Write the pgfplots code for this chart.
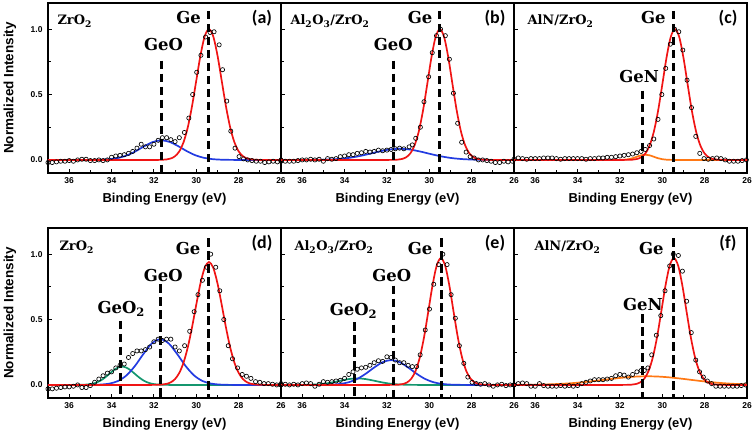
\documentclass[border=0pt]{standalone}
\usepackage{pgfplots}
\pgfplotsset{compat=1.18}
\usepackage{fontspec}
\setmainfont{Liberation Sans}
\newfontfamily\annfont{DejaVu Serif}
\newfontfamily\panfont{Carlito}
\definecolor{cred}{RGB}{240,20,20}
\definecolor{cblue}{RGB}{35,60,225}
\definecolor{cgreen}{RGB}{20,150,110}
\definecolor{corange}{RGB}{255,120,20}
\pgfplotsset{
 panel/.style={scale only axis, width=233bp, height=170bp, anchor=south west,
   xmin=26, xmax=37, x dir=reverse, ymin=-0.1, ymax=1.2,
   xtick={26,28,...,36}, minor xtick={27,29,...,35}, ytick={0,0.5,1}, minor ytick={0.25,0.75},
   tick align=inside, xtick pos=bottom, ytick pos=left,
   major tick length=4bp, minor tick length=3bp,
   tick style={black, line width=0.9bp}, axis line style={line width=1.3bp},
   /pgf/number format/assume math mode=true,
   ticklabel style={font=\bfseries\fontsize{8.5}{10}\selectfont},
   xticklabel style={yshift=-1.5bp},
   yticklabel style={xshift=-2bp, /pgf/number format/fixed, /pgf/number format/fixed zerofill, /pgf/number format/precision=1},
   xlabel={Binding Energy (eV)},
   xlabel style={font=\bfseries\fontsize{13}{15}\selectfont, at={(axis description cs:0.5,-0.155)}, anchor=center},
   ylabel style={font=\bfseries\fontsize{13.5}{15}\selectfont, at={(axis description cs:-0.163,0.5)}, anchor=center},
 },
 noylab/.style={yticklabels={}},
}
\tikzset{
 fitline/.style={line width=1.7bp, smooth},
 dline/.style={black, line width=3bp, line cap=butt, dash pattern=on 8.5bp off 4.5bp},
 datapts/.style={only marks, mark=o, mark size=2.1bp, mark options={black, line width=0.65bp, solid}},
 ann/.style={font=\annfont\bfseries\fontsize{16.5}{19}\selectfont},
 sam/.style={font=\annfont\bfseries\fontsize{13}{15}\selectfont, anchor=west},
 plab/.style={font=\panfont\bfseries\fontsize{18}{20}\selectfont},
}
\begin{document}
\begin{tikzpicture}
\useasboundingbox (0,0) rectangle (756bp,435bp);
% ---------------- (a)
\begin{axis}[panel, at={(48bp,262bp)}, ylabel={Normalized Intensity}]
\addplot[cblue, fitline, no marks] coordinates {(37,0)(35.25,0.0001)(34.85,0.0005)(34.45,0.002)(34.05,0.0062)(33.65,0.0164)(33.25,0.0363)(32.85,0.0675)(32.45,0.105)(32.05,0.137)(31.65,0.15)(31.25,0.137)(30.85,0.105)(30.45,0.0675)(30.05,0.0363)(29.65,0.0164)(29.25,0.0062)(28.85,0.002)(28.45,0.0005)(28.05,0.0001)(26,0)};
\addplot[cred, fitline, no marks] coordinates {(37,0)(33,0)(32.2,0)(31.8,0)(31.6,0.0012)(31.4,0.0039)(31.2,0.0111)(31.0,0.0286)(30.8,0.0657)(30.6,0.1353)(30.4,0.2494)(30.2,0.4111)(30.0,0.6065)(29.8,0.8007)(29.6,0.9460)(29.4,1.0)(29.2,0.9460)(29.0,0.8007)(28.8,0.6065)(28.6,0.4111)(28.4,0.2494)(28.2,0.1353)(28.0,0.0657)(27.8,0.0286)(27.6,0.0111)(27.4,0.0039)(27.2,0.0012)(27.0,0)(26.6,0)(26,0)};
\addplot[datapts] coordinates {(37.0,-0.02)(36.8,-0.02)(36.6,-0.015)(36.4,-0.01)(36.2,-0.01)(36.0,-0.005)(35.8,-0.01)(35.6,0.0)(35.4,0.005)(35.2,0.005)(35.0,-0.005)(34.8,-0.005)(34.6,0.0)(34.4,-0.005)(34.2,0.0)(34.0,0.02)(33.8,0.03)(33.6,0.035)(33.4,0.04)(33.2,0.05)(33.0,0.065)(32.8,0.09)(32.6,0.12)(32.4,0.10)(32.2,0.10)(32.0,0.12)(31.8,0.15)(31.6,0.17)(31.4,0.17)(31.2,0.155)(31.0,0.14)(30.8,0.17)(30.56,0.21)(30.35,0.32)(30.17,0.50)(29.98,0.67)(29.78,0.80)(29.56,0.94)(29.35,0.975)(29.16,0.98)(28.92,0.88)(28.76,0.69)(28.56,0.45)(28.37,0.22)(28.17,0.09)(27.98,0.025)(27.77,0.008)(27.57,0.0)(27.37,-0.005)(27.17,-0.01)(26.97,-0.01)(26.77,-0.02)(26.57,-0.015)(26.37,-0.01)(26.17,-0.015)(26.0,-0.01)};
\addplot[dline, no marks] coordinates {(29.4,1.14)(29.4,-0.1)};
\addplot[dline, no marks] coordinates {(31.65,0.76)(31.65,-0.1)};
\node[ann] at (axis cs:30.36,1.09) {Ge};
\node[ann] at (axis cs:31.55,0.88) {GeO};
\node[sam] at (rel axis cs:0,1) [xshift=6bp, yshift=-18bp] {ZrO\textsubscript{2}};
\node[plab] at (rel axis cs:1,1) [xshift=-19bp, yshift=-15bp] {(a)};
\end{axis}
% ---------------- (b)
\begin{axis}[panel, noylab, at={(281bp,262bp)}]
\addplot[cblue, fitline, no marks] coordinates {(37,0)(35.9,0.0002)(35.4,0.0007)(34.9,0.0023)(34.4,0.0059)(33.9,0.0133)(33.4,0.026)(32.9,0.0437)(32.4,0.0632)(31.9,0.079)(31.4,0.085)(30.9,0.079)(30.4,0.0632)(29.9,0.0437)(29.4,0.026)(28.9,0.0133)(28.4,0.0059)(27.9,0.0023)(27.4,0.0007)(26.9,0.0002)(26,0)};
\addplot[cred, fitline, no marks] coordinates {(37,0)(33,0)(32.3,0)(32,0)(31.7,0.0006)(31.5,0.0021)(31.3,0.0068)(31.1,0.0195)(30.9,0.049)(30.7,0.109)(30.5,0.2146)(30.3,0.3735)(30.1,0.5747)(29.9,0.7817)(29.7,0.9403)(29.5,1.0)(29.3,0.9403)(29.1,0.7817)(28.9,0.5747)(28.7,0.3735)(28.5,0.2146)(28.3,0.109)(28.1,0.049)(27.9,0.0195)(27.7,0.0068)(27.5,0.0021)(27.3,0.0006)(27.0,0)(26.6,0)(26,0)};
\addplot[datapts] coordinates {(37.0,0.0)(36.8,-0.01)(36.6,-0.01)(36.4,-0.01)(36.2,-0.005)(36.0,0.0)(35.8,0.0)(35.6,0.005)(35.4,0.0)(35.2,0.005)(35.0,-0.01)(34.8,0.01)(34.6,0.005)(34.4,0.01)(34.2,0.025)(34.0,0.03)(33.8,0.04)(33.6,0.04)(33.4,0.05)(33.2,0.055)(33.0,0.065)(32.8,0.06)(32.6,0.065)(32.4,0.075)(32.2,0.07)(32.0,0.075)(31.8,0.08)(31.6,0.085)(31.4,0.09)(31.2,0.085)(30.95,0.10)(30.8,0.115)(30.64,0.165)(30.42,0.25)(30.25,0.445)(30.03,0.636)(29.86,0.82)(29.66,0.95)(29.47,1.0)(29.24,0.95)(29.05,0.77)(28.86,0.51)(28.66,0.28)(28.47,0.135)(28.26,0.06)(28.07,0.025)(27.88,0.015)(27.68,0.0)(27.48,0.0)(27.28,-0.005)(27.08,-0.01)(26.88,-0.02)(26.68,-0.02)(26.48,-0.01)(26.28,-0.015)(26.08,-0.01)};
\addplot[dline, no marks] coordinates {(29.5,1.14)(29.5,-0.1)};
\addplot[dline, no marks] coordinates {(31.7,0.76)(31.7,-0.1)};
\node[ann] at (axis cs:30.43,1.09) {Ge};
\node[ann] at (axis cs:31.7,0.88) {GeO};
\node[sam] at (rel axis cs:0,1) [xshift=6bp, yshift=-18bp] {Al\textsubscript{2}O\textsubscript{3}/ZrO\textsubscript{2}};
\node[plab] at (rel axis cs:1,1) [xshift=-19bp, yshift=-15bp] {(b)};
\end{axis}
% ---------------- (c)
\begin{axis}[panel, noylab, at={(514bp,262bp)}]
\addplot[corange, fitline, no marks] coordinates {(37,0)(33,0)(32.2,0)(32.0,0.0004)(31.8,0.0018)(31.6,0.0054)(31.4,0.013)(31.2,0.0243)(31.0,0.0353)(30.8,0.04)(30.6,0.0353)(30.4,0.0243)(30.2,0.013)(30.0,0.0054)(29.8,0.0018)(29.6,0.0004)(29.3,0)(28,0)(26,0)};
\addplot[cred, fitline, no marks] coordinates {(37,0)(33,0)(32.2,0)(31.9,0)(31.6,0.0006)(31.4,0.0021)(31.2,0.0068)(31.0,0.0195)(30.8,0.049)(30.6,0.109)(30.4,0.2146)(30.2,0.3735)(30.0,0.5747)(29.8,0.7817)(29.6,0.9403)(29.4,1.0)(29.2,0.9403)(29.0,0.7817)(28.8,0.5747)(28.6,0.3735)(28.4,0.2146)(28.2,0.109)(28.0,0.049)(27.8,0.0195)(27.6,0.0068)(27.4,0.0021)(27.2,0.0006)(26.9,0)(26.5,0)(26,0)};
\addplot[datapts] coordinates {(37.0,0.005)(36.8,0.015)(36.6,0.01)(36.4,0.005)(36.2,0.01)(36.0,0.01)(35.8,0.01)(35.6,0.015)(35.4,0.015)(35.2,0.015)(35.0,0.01)(34.8,0.005)(34.6,0.01)(34.4,0.01)(34.2,0.01)(34.0,0.01)(33.8,0.01)(33.6,0.005)(33.4,0.01)(33.2,0.01)(33.0,0.015)(32.8,0.015)(32.6,0.02)(32.4,0.02)(32.2,0.025)(32.0,0.03)(31.8,0.035)(31.6,0.04)(31.4,0.045)(31.2,0.055)(31.0,0.065)(30.8,0.08)(30.6,0.11)(30.4,0.16)(30.2,0.31)(30.02,0.50)(29.84,0.70)(29.62,0.885)(29.42,1.0)(29.22,0.98)(29.03,0.84)(28.83,0.61)(28.62,0.40)(28.42,0.18)(28.23,0.05)(28.03,0.01)(27.83,0.005)(27.63,0.01)(27.43,0.015)(27.23,0.01)(27.03,0.0)(26.83,-0.01)(26.63,-0.01)(26.43,-0.01)(26.23,-0.005)(26.03,0.0)};
\addplot[dline, no marks] coordinates {(29.45,1.14)(29.45,-0.1)};
\addplot[dline, no marks] coordinates {(30.92,0.53)(30.92,-0.1)};
\node[ann] at (axis cs:30.42,1.09) {Ge};
\node[ann] at (axis cs:31.09,0.64) {GeN};
\node[sam] at (rel axis cs:0,1) [xshift=10bp, yshift=-18bp] {AlN/ZrO\textsubscript{2}};
\node[plab] at (rel axis cs:1,1) [xshift=-19bp, yshift=-15bp] {(c)};
\end{axis}
% ---------------- (d)
\begin{axis}[panel, at={(48bp,37bp)}, ylabel={Normalized Intensity}]
\addplot[cgreen, fitline, no marks] coordinates {(37,0)(36.3,0)(35.9,0)(35.5,0.0005)(35.3,0.0016)(35.1,0.004)(34.9,0.0092)(34.7,0.0189)(34.5,0.0349)(34.3,0.0576)(34.1,0.0849)(33.9,0.1121)(33.7,0.1324)(33.5,0.14)(33.3,0.1324)(33.1,0.1121)(32.9,0.0849)(32.7,0.0576)(32.5,0.0349)(32.3,0.0189)(32.1,0.0092)(31.9,0.004)(31.7,0.0016)(31.5,0.0005)(31.1,0)(30.5,0)(26,0)};
\addplot[cblue, fitline, no marks] coordinates {(37,0)(35.8,0)(35.3,0)(34.9,0.0006)(34.5,0.0028)(34.1,0.01)(33.7,0.0296)(33.3,0.0721)(32.9,0.1439)(32.5,0.2358)(32.1,0.317)(31.7,0.35)(31.3,0.317)(30.9,0.2358)(30.5,0.1439)(30.1,0.0721)(29.7,0.0296)(29.3,0.01)(28.9,0.0028)(28.5,0.0006)(28.1,0)(27.5,0)(26,0)};
\addplot[cred, fitline, no marks] coordinates {(37,0)(33,0)(32.5,0)(32.2,0)(31.8,0.001)(31.6,0.0031)(31.4,0.0083)(31.2,0.0203)(31.0,0.0454)(30.8,0.0924)(30.6,0.171)(30.4,0.2879)(30.2,0.4408)(30.0,0.6139)(29.8,0.7779)(29.6,0.8966)(29.4,0.94)(29.2,0.8966)(29.0,0.7779)(28.8,0.6139)(28.6,0.4408)(28.4,0.2879)(28.2,0.171)(28.0,0.0924)(27.8,0.0454)(27.6,0.0203)(27.4,0.0083)(27.2,0.0031)(27.0,0.001)(26.6,0)(26.3,0)(26,0)};
\addplot[datapts] coordinates {(37.0,-0.03)(36.8,-0.03)(36.6,-0.025)(36.4,-0.02)(36.2,-0.015)(36.0,-0.015)(35.8,-0.01)(35.6,0.0)(35.4,-0.02)(35.2,-0.02)(35.0,-0.005)(34.8,0.02)(34.6,0.045)(34.4,0.07)(34.2,0.09)(34.0,0.10)(33.8,0.13)(33.6,0.15)(33.4,0.16)(33.2,0.21)(33.0,0.24)(32.8,0.26)(32.6,0.26)(32.4,0.27)(32.2,0.29)(32.0,0.33)(31.8,0.35)(31.6,0.34)(31.4,0.35)(31.2,0.35)(31.0,0.29)(30.8,0.26)(30.55,0.30)(30.31,0.41)(30.1,0.56)(29.92,0.69)(29.71,0.80)(29.52,0.90)(29.32,1.0)(29.08,0.90)(28.89,0.72)(28.7,0.50)(28.49,0.30)(28.29,0.20)(28.05,0.13)(27.83,0.08)(27.63,0.066)(27.42,0.05)(27.2,0.025)(27.0,0.02)(26.8,0.01)(26.6,0.01)(26.4,0.005)(26.2,0.0)(26.0,0.0)};
\addplot[dline, no marks] coordinates {(29.4,1.12)(29.4,-0.1)};
\addplot[dline, no marks] coordinates {(31.7,0.77)(31.7,-0.1)};
\addplot[dline, no marks] coordinates {(33.58,0.49)(33.58,-0.1)};
\node[ann] at (axis cs:30.39,1.045) {Ge};
\node[ann] at (axis cs:31.56,0.84) {GeO};
\node[ann] at (axis cs:33.54,0.58) {GeO\textsubscript{2}};
\node[sam] at (rel axis cs:0,1) [xshift=8bp, yshift=-19bp] {ZrO\textsubscript{2}};
\node[plab] at (rel axis cs:1,1) [xshift=-19bp, yshift=-15bp] {(d)};
\end{axis}
% ---------------- (e)
\begin{axis}[panel, noylab, at={(281bp,37bp)}]
\addplot[cgreen, fitline, no marks] coordinates {(37,0)(36.6,0)(36.2,0.0002)(35.8,0.0009)(35.4,0.0031)(35.0,0.0085)(34.6,0.0185)(34.2,0.0321)(33.8,0.0448)(33.4,0.05)(33.0,0.0448)(32.6,0.0321)(32.2,0.0185)(31.8,0.0085)(31.4,0.0031)(31.0,0.0009)(30.6,0.0002)(30.2,0)(29.5,0)(26,0)};
\addplot[cblue, fitline, no marks] coordinates {(37,0)(36.3,0)(35.8,0)(35.4,0.0001)(35.0,0.0007)(34.6,0.0025)(34.2,0.0078)(33.8,0.0207)(33.4,0.046)(33.0,0.0856)(32.6,0.1333)(32.2,0.1739)(31.8,0.19)(31.4,0.1739)(31.0,0.1333)(30.6,0.0856)(30.2,0.046)(29.8,0.0207)(29.4,0.0078)(29.0,0.0025)(28.6,0.0007)(28.2,0.0001)(27.8,0)(27.2,0)(26,0)};
\addplot[cred, fitline, no marks] coordinates {(37,0)(33,0)(32.3,0)(32.0,0)(31.65,0.0006)(31.45,0.0021)(31.25,0.0066)(31.05,0.0189)(30.85,0.0475)(30.65,0.1057)(30.45,0.2082)(30.25,0.3623)(30.05,0.5575)(29.85,0.7582)(29.65,0.9121)(29.45,0.97)(29.25,0.9121)(29.05,0.7582)(28.85,0.5575)(28.65,0.3623)(28.45,0.2082)(28.25,0.1057)(28.05,0.0475)(27.85,0.0189)(27.65,0.0066)(27.45,0.0021)(27.25,0.0006)(26.9,0)(26.5,0)(26,0)};
\addplot[datapts] coordinates {(37.0,0.01)(36.8,0.005)(36.6,0.0)(36.4,0.005)(36.2,0.0)(36.0,0.01)(35.8,0.015)(35.6,0.01)(35.4,-0.01)(35.2,0.005)(35.0,0.025)(34.8,0.02)(34.6,0.025)(34.4,0.03)(34.2,0.035)(34.0,0.05)(33.8,0.08)(33.6,0.10)(33.4,0.12)(33.2,0.13)(33.0,0.135)(32.8,0.15)(32.6,0.17)(32.4,0.185)(32.2,0.18)(32.0,0.215)(31.8,0.21)(31.6,0.19)(31.4,0.17)(31.2,0.17)(31.0,0.15)(30.8,0.14)(30.6,0.14)(30.43,0.23)(30.19,0.42)(29.99,0.58)(29.79,0.77)(29.56,0.92)(29.36,1.0)(29.16,0.92)(28.97,0.69)(28.77,0.51)(28.58,0.30)(28.37,0.165)(28.18,0.06)(27.98,0.02)(27.78,0.01)(27.58,0.005)(27.38,0.01)(27.18,0.0)(26.98,-0.01)(26.78,0.0)(26.58,0.005)(26.38,-0.005)(26.18,0.0)(26.0,0.0)};
\addplot[dline, no marks] coordinates {(29.42,1.12)(29.42,-0.1)};
\addplot[dline, no marks] coordinates {(31.7,0.76)(31.7,-0.1)};
\addplot[dline, no marks] coordinates {(33.55,0.48)(33.55,-0.1)};
\node[ann] at (axis cs:30.43,1.045) {Ge};
\node[ann] at (axis cs:31.77,0.84) {GeO};
\node[ann] at (axis cs:33.58,0.565) {GeO\textsubscript{2}};
\node[sam] at (rel axis cs:0,1) [xshift=10bp, yshift=-19bp] {Al\textsubscript{2}O\textsubscript{3}/ZrO\textsubscript{2}};
\node[plab] at (rel axis cs:1,1) [xshift=-19bp, yshift=-15bp] {(e)};
\end{axis}
% ---------------- (f)
\begin{axis}[panel, noylab, at={(514bp,37bp)}]
\addplot[corange, fitline, no marks] coordinates {(37,0.0004)(36.7,0.0007)(36.2,0.0015)(35.7,0.0029)(35.2,0.0053)(34.7,0.0089)(34.2,0.0143)(33.7,0.0214)(33.2,0.0302)(32.7,0.04)(32.2,0.0498)(31.7,0.0582)(31.2,0.064)(30.7,0.066)(30.2,0.064)(29.7,0.0582)(29.2,0.0498)(28.7,0.04)(28.2,0.0302)(27.7,0.0214)(27.2,0.0143)(26.7,0.0089)(26.2,0.0053)(26.0,0.0043)};
\addplot[cred, fitline, no marks] coordinates {(37,0)(33,0)(32.3,0)(32.0,0)(31.65,0.0006)(31.45,0.0021)(31.25,0.0066)(31.05,0.0189)(30.85,0.0475)(30.65,0.1057)(30.45,0.2082)(30.25,0.3623)(30.05,0.5575)(29.85,0.7582)(29.65,0.9121)(29.45,0.97)(29.25,0.9121)(29.05,0.7582)(28.85,0.5575)(28.65,0.3623)(28.45,0.2082)(28.25,0.1057)(28.05,0.0475)(27.85,0.0189)(27.65,0.0066)(27.45,0.0021)(27.25,0.0006)(26.9,0)(26.5,0)(26,0)};
\addplot[datapts] coordinates {(37.0,0.0)(36.8,0.01)(36.6,0.015)(36.4,0.01)(36.2,-0.01)(36.0,-0.01)(35.8,0.01)(35.6,-0.005)(35.4,-0.01)(35.2,-0.01)(35.0,-0.01)(34.8,-0.005)(34.6,-0.01)(34.4,-0.005)(34.2,-0.01)(34.0,-0.005)(33.8,0.01)(33.6,0.02)(33.4,0.03)(33.2,0.04)(33.0,0.04)(32.8,0.04)(32.6,0.045)(32.4,0.05)(32.2,0.07)(32.0,0.08)(31.8,0.075)(31.6,0.06)(31.4,0.08)(31.2,0.10)(31.0,0.11)(30.85,0.11)(30.68,0.13)(30.5,0.23)(30.28,0.38)(30.07,0.53)(29.87,0.72)(29.65,0.91)(29.48,1.0)(29.24,0.99)(29.05,0.87)(28.85,0.64)(28.63,0.40)(28.42,0.19)(28.24,0.10)(28.06,0.06)(27.87,0.03)(27.67,0.01)(27.47,-0.01)(27.27,-0.01)(27.07,-0.01)(26.87,-0.01)(26.67,-0.01)(26.47,-0.01)(26.27,-0.005)(26.07,0.0)};
\addplot[dline, no marks] coordinates {(29.48,1.12)(29.48,-0.1)};
\addplot[dline, no marks] coordinates {(30.93,0.54)(30.93,-0.1)};
\node[ann] at (axis cs:30.52,1.045) {Ge};
\node[ann] at (axis cs:30.92,0.615) {GeN};
\node[sam] at (rel axis cs:0,1) [xshift=17bp, yshift=-19bp] {AlN/ZrO\textsubscript{2}};
\node[plab] at (rel axis cs:1,1) [xshift=-19bp, yshift=-15bp] {(f)};
\end{axis}
\end{tikzpicture}
\end{document}
